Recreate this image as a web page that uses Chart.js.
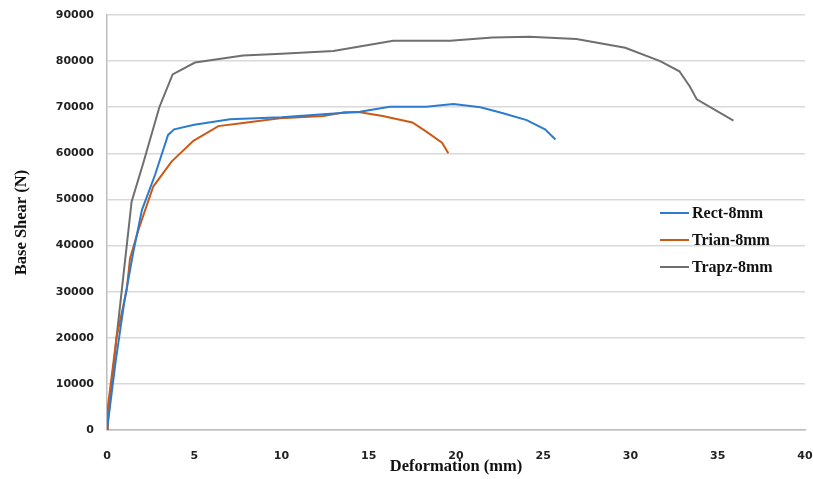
<!DOCTYPE html>
<html>
<head>
<meta charset="utf-8">
<script src="https://cdn.jsdelivr.net/npm/chart.js@4/dist/chart.umd.min.js"></script>
<style>
  html, body { margin: 0; padding: 0; background: #ffffff; }
  #wrap { position: relative; width: 813px; height: 479px; }
  #legend { position: absolute; left: 660px; top: 0; font-family: "Liberation Serif", "Times New Roman", serif; font-weight: bold; font-size: 16px; color: #111; }
  .item { position: absolute; left: 0; height: 20px; display: flex; align-items: center; white-space: nowrap; }
  .swatch { width: 29px; height: 2px; margin-right: 3px; }
</style>
</head>
<body>
<div id="wrap">
  <canvas id="c" width="813" height="479"></canvas>
  <div id="legend"></div>
</div>
<script>
const seriesNames = ["Rect-8mm", "Trian-8mm", "Trapz-8mm"];
const seriesColors = ["#2b7cd0", "#cc5a16", "#6f6f6f"];

const rectX = [0, 0.5, 1.0, 1.5, 2.0, 2.75, 3.5, 3.85, 5, 7.05, 10, 12.4, 14.5, 16.2, 18.3, 19.85, 21.4, 22.7, 24.05, 25.1, 25.7];
const rectY = [0, 15000, 28000, 38400, 47700, 55300, 64000, 65200, 66200, 67400, 67800, 68500, 69000, 70100, 70100, 70700, 70000, 68700, 67200, 65200, 63000];

const trianX = [0, 0.05, 0.55, 1.13, 1.32, 1.8, 2.65, 3.7, 4.95, 6.38, 7.8, 9.9, 12.4, 13.6, 14.5, 15.8, 17.5, 18.3, 19.2, 19.56];
const trianY = [0, 5000, 20200, 30400, 37200, 43400, 52800, 58200, 62700, 65900, 66600, 67600, 68100, 68900, 68900, 68100, 66700, 64700, 62300, 60000];

const trapzX = [0, 0.55, 1.41, 2.08, 3.0, 3.76, 5.04, 7.8, 10, 12.97, 16.4, 19.66, 22.1, 24.2, 26.9, 29.7, 31.7, 32.8, 33.4, 33.8, 35.9];
const trapzY = [0, 20200, 49500, 57900, 70000, 77100, 79700, 81200, 81600, 82200, 84400, 84400, 85100, 85300, 84800, 82900, 80000, 77800, 74500, 71700, 67100];

const xTicks = [0, 5, 10, 15, 20, 25, 30, 35, 40];
const yTicks = [0, 10000, 20000, 30000, 40000, 50000, 60000, 70000, 80000, 90000];

function pairs(xs, ys) { return xs.map((x, i) => ({ x: x, y: ys[i] })); }

const allX = [rectX, trianX, trapzX];
const allY = [rectY, trianY, trapzY];

const datasets = seriesNames.map((n, i) => ({
  label: n,
  data: pairs(allX[i], allY[i]),
  borderColor: seriesColors[i],
  backgroundColor: seriesColors[i],
  borderWidth: 2,
  pointRadius: 0,
  tension: 0,
  fill: false
}));

const tickFont = { family: "DejaVu Sans", size: 11, weight: "bold" };
const titleFont = { family: "Liberation Serif", size: 16.5, weight: "bold" };

new Chart(document.getElementById("c"), {
  type: "line",
  data: { datasets: datasets },
  options: {
    responsive: false,
    animation: false,
    layout: { padding: { top: 15, right: 8, left: 0, bottom: 0 } },
    plugins: { legend: { display: false }, tooltip: { enabled: false } },
    scales: {
      x: {
        type: "linear",
        min: 0, max: 40,
        afterBuildTicks: (s) => { s.ticks = xTicks.map(v => ({ value: v })); },
        afterFit: (s) => { s.height = 49; s.paddingLeft = 0; s.paddingRight = 0; },
        grid: { display: false, drawTicks: false },
        border: { display: true, color: "#bdbdbd", width: 1.5 },
        ticks: { font: tickFont, color: "#222", padding: 20, maxRotation: 0, autoSkip: false, callback: (v) => String(v) },
        title: { display: true, text: "Deformation (mm)", font: titleFont, color: "#111", padding: { top: 0, bottom: 2 } }
      },
      y: {
        min: 0, max: 90000,
        afterBuildTicks: (s) => { s.ticks = yTicks.map(v => ({ value: v })); },
        afterFit: (s) => { s.width = 107; s.paddingTop = 0; s.paddingBottom = 0; },
        grid: { color: "#d9d9d9", lineWidth: 1.5, drawTicks: false },
        border: { display: true, color: "#bdbdbd", width: 1.5 },
        ticks: { font: tickFont, color: "#222", padding: 13, autoSkip: false, callback: (v) => String(v) },
        title: { display: true, text: "Base Shear (N)", font: titleFont, color: "#111", padding: { top: 12, bottom: 0 } }
      }
    }
  }
});

const legend = document.getElementById("legend");
const legendTops = [203, 230, 257];
seriesNames.forEach((n, i) => {
  const d = document.createElement("div");
  d.className = "item";
  d.style.top = legendTops[i] + "px";
  const sw = document.createElement("span");
  sw.className = "swatch";
  sw.style.background = seriesColors[i];
  const t = document.createElement("span");
  t.textContent = n;
  d.appendChild(sw); d.appendChild(t);
  legend.appendChild(d);
});
</script>
</body>
</html>
